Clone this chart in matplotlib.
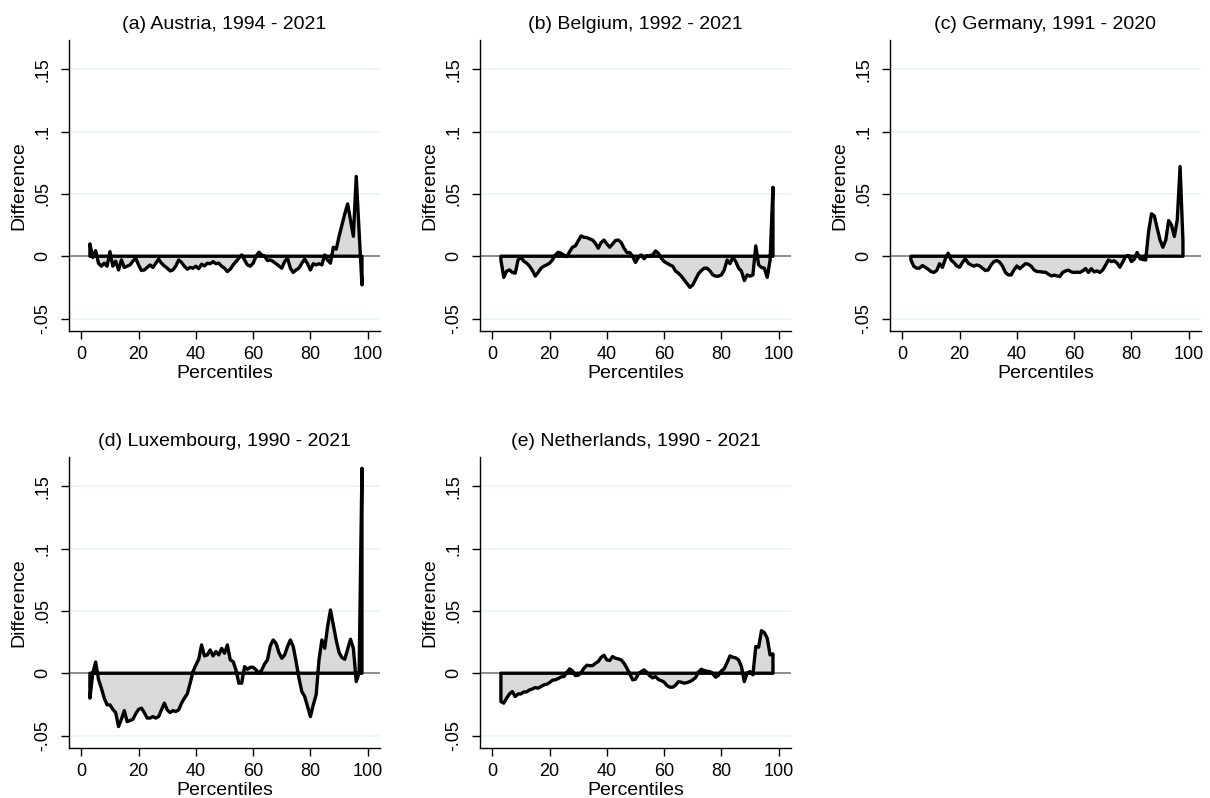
import matplotlib
matplotlib.use("Agg")
import matplotlib.pyplot as plt
import numpy as np

plt.rcParams['font.family'] = ['Liberation Sans', 'DejaVu Sans']

percentiles = list(range(3, 99))

austria = [0.0099, -0.001, 0.0045, -0.0056, -0.008, -0.0056, -0.008, 0.0037, -0.008, -0.004,
           -0.011, -0.003, -0.009, -0.008, -0.007, -0.004, -0.0016, -0.007, -0.0115, -0.011,
           -0.009, -0.007, -0.009, -0.0056, -0.0024, -0.0056, -0.0078, -0.0096, -0.0118, -0.011,
           -0.0078, -0.003, -0.005, -0.008, -0.0104, -0.009, -0.0096, -0.008, -0.010, -0.0064,
           -0.0078, -0.0056, -0.006, -0.0043, -0.006, -0.0056, -0.008, -0.0096, -0.0123, -0.0104,
           -0.007, -0.0043, -0.0016, 0.001, -0.003, -0.007, -0.008, -0.0056, -0.0003, 0.0032,
           0.001, 0.0, -0.0035, -0.003, -0.0043, -0.006, -0.0078, -0.0096, -0.0043, -0.0016,
           -0.0096, -0.013, -0.011, -0.0096, -0.0056, -0.0024, -0.006, -0.011, -0.006, -0.007,
           -0.006, -0.007, 0.001, -0.003, -0.0056, 0.0072, 0.0056, 0.0158, 0.025, 0.034,
           0.042, 0.029, 0.016, 0.064, 0.020, -0.023]

belgium = [-0.003, -0.017, -0.012, -0.011, -0.013, -0.0136, -0.003, -0.001, -0.004, -0.0056,
           -0.008, -0.0115, -0.016, -0.013, -0.0096, -0.008, -0.007, -0.0056, -0.003, 0.001,
           0.0032, 0.0024, 0.001, -0.0003, 0.0037, 0.0072, 0.0083, 0.0123, 0.0163, 0.0152,
           0.015, 0.0139, 0.013, 0.0104, 0.0064, 0.011, 0.013, 0.0099, 0.0072, 0.0099,
           0.0126, 0.013, 0.011, 0.0064, 0.003, 0.003, -0.0003, -0.005, -0.001, 0.001,
           -0.002, 0.0003, 0.0005, 0.001, 0.0043, 0.0024, -0.0016, -0.0043, -0.0056, -0.007,
           -0.008, -0.012, -0.0136, -0.016, -0.019, -0.022, -0.025, -0.023, -0.0185, -0.014,
           -0.0115, -0.0096, -0.0096, -0.0118, -0.015, -0.016, -0.016, -0.015, -0.011, -0.003,
           -0.006, -0.001, -0.0043, -0.0096, -0.012, -0.0195, -0.015, -0.016, -0.015, 0.0083,
           -0.007, -0.009, -0.0096, -0.017, -0.003, 0.0553]

germany = [-0.003, -0.008, -0.0096, -0.0096, -0.0075, -0.0088, -0.0104, -0.0123, -0.013, -0.0115,
           -0.006, -0.009, -0.0024, 0.0024, -0.003, -0.005, -0.0078, -0.0088, -0.005, -0.002,
           -0.0056, -0.007, -0.008, -0.007, -0.0078, -0.0096, -0.0115, -0.011, -0.007, -0.0043,
           -0.0035, -0.0048, -0.008, -0.013, -0.015, -0.015, -0.011, -0.0078, -0.010, -0.008,
           -0.006, -0.0064, -0.008, -0.011, -0.0123, -0.0123, -0.0128, -0.0128, -0.0144, -0.0158,
           -0.0152, -0.0158, -0.0163, -0.013, -0.0118, -0.0112, -0.0126, -0.013, -0.0128, -0.013,
           -0.0118, -0.0099, -0.013, -0.010, -0.0126, -0.0118, -0.013, -0.011, -0.007, -0.003,
           -0.0043, -0.0037, -0.0056, -0.0088, -0.0045, -0.0003, 0.0005, -0.0043, -0.0024, 0.003,
           -0.002, -0.0027, -0.003, 0.0198, 0.034, 0.0324, 0.0225, 0.013, 0.0072, 0.013,
           0.0286, 0.025, 0.0158, 0.029, 0.072, 0.012]

luxembourg = [-0.020, 0.0, 0.009, -0.005, -0.012, -0.020, -0.0254, -0.0254, -0.029, -0.0316,
              -0.0428, -0.037, -0.030, -0.0388, -0.038, -0.037, -0.0326, -0.029, -0.028, -0.0316,
              -0.036, -0.036, -0.0348, -0.036, -0.0348, -0.0294, -0.024, -0.0294, -0.0316, -0.030,
              -0.0307, -0.0294, -0.024, -0.020, -0.0166, -0.008, 0.0013, 0.0067, 0.0112, 0.0227,
              0.0139, 0.0147, 0.0187, 0.0139, 0.0174, 0.0147, 0.020, 0.016, 0.0227, 0.0107,
              0.0094, 0.0027, -0.008, -0.008, 0.0053, 0.0032, 0.0048, 0.0048, 0.0027, 0.0,
              0.0027, 0.0075, 0.0107, 0.022, 0.0267, 0.024, 0.0166, 0.012, 0.0147, 0.0214,
              0.0267, 0.0214, 0.0094, -0.004, -0.0147, -0.0187, -0.0267, -0.0348, -0.0254, -0.0174,
              0.0107, 0.0267, 0.020, 0.0374, 0.0508, 0.0388, 0.0267, 0.0166, 0.0126, 0.0112,
              0.0193, 0.0273, 0.020, -0.0067, 0.0, 0.1644]

netherlands = [-0.0227, -0.024, -0.020, -0.0166, -0.0147, -0.0187, -0.0166, -0.0166, -0.015, -0.015,
               -0.0134, -0.0126, -0.0115, -0.012, -0.0107, -0.0094, -0.0088, -0.0075, -0.0056, -0.0053,
               -0.0043, -0.003, -0.0027, 0.0005, 0.0035, 0.0019, -0.0019, -0.0016, 0.0005, 0.004,
               0.0064, 0.0061, 0.0061, 0.008, 0.0094, 0.0128, 0.0144, 0.0107, 0.0102, 0.0134,
               0.012, 0.0115, 0.0107, 0.008, 0.004, -0.0005, -0.0053, -0.0048, -0.0005, 0.0013,
               0.0027, 0.0005, -0.0021, -0.0037, -0.0027, -0.0051, -0.0059, -0.0072, -0.0099, -0.0112,
               -0.0112, -0.0096, -0.0067, -0.0072, -0.008, -0.0075, -0.0067, -0.0053, -0.0035, 0.001,
               0.0032, 0.0021, 0.0016, 0.0013, -0.0005, -0.0032, -0.0016, 0.0019, 0.0037, 0.0086,
               0.0139, 0.0128, 0.0123, 0.0107, 0.0053, -0.0067, 0.0, 0.0013, -0.0013, 0.0214,
               0.0209, 0.0342, 0.0326, 0.0281, 0.0147, 0.0155]

titles = ["(a) Austria, 1994 - 2021", "(b) Belgium, 1992 - 2021", "(c) Germany, 1991 - 2020",
          "(d) Luxembourg, 1990 - 2021", "(e) Netherlands, 1990 - 2021"]
series = [austria, belgium, germany, luxembourg, netherlands]

yticks = [-0.05, 0, 0.05, 0.1, 0.15]
yticklabels = ["-.05", "0", ".05", ".1", ".15"]
xticks = [0, 20, 40, 60, 80, 100]

W, H = 1210, 798
fig = plt.figure(figsize=(W / 100, H / 100), dpi=100)

lefts = [69, 480, 890, 69, 480]
tops = [40, 40, 40, 457, 457]
aw, ah = 311, 291

grid_col = "#EAF2F3"
fs = 14
tfs = 13

for i in range(5):
    ax = fig.add_axes([lefts[i] / W, 1 - (tops[i] + ah) / H, aw / W, ah / H])
    x = np.array(percentiles, dtype=float)
    y = np.array(series[i], dtype=float)
    ax.set_xlim(-4.3, 104.3)
    ax.set_ylim(-0.060, 0.1735)
    for t in [-0.05, 0.05, 0.1, 0.15]:
        ax.axhline(t, color=grid_col, lw=1.1, zorder=0)
    ax.axhline(0, color="#7a7a7a", lw=1.2, zorder=1)
    px = np.concatenate([[x[0]], x, [x[-1]]])
    py = np.concatenate([[0.0], y, [0.0]])
    ax.fill(px, py, facecolor="#D9D9D9", edgecolor="black", lw=2.4,
            joinstyle="round", zorder=2)
    ax.set_yticks(yticks)
    ax.set_yticklabels(yticklabels, rotation=90, va="center")
    ax.set_xticks(xticks)
    for s in ["top", "right"]:
        ax.spines[s].set_visible(False)
    for s in ["left", "bottom"]:
        ax.spines[s].set_color("black")
        ax.spines[s].set_linewidth(1.0)
    ax.tick_params(axis="y", length=6, width=1.0, pad=7, labelsize=tfs)
    ax.tick_params(axis="x", length=6, width=1.0, pad=5, labelsize=tfs)
    ax.set_xlabel("Percentiles", fontsize=fs, labelpad=1)
    ax.set_ylabel("Difference", fontsize=fs, labelpad=5)
    ax.set_title(titles[i], fontsize=fs, pad=8)

fig.savefig("out.png", dpi=100, facecolor="white")
